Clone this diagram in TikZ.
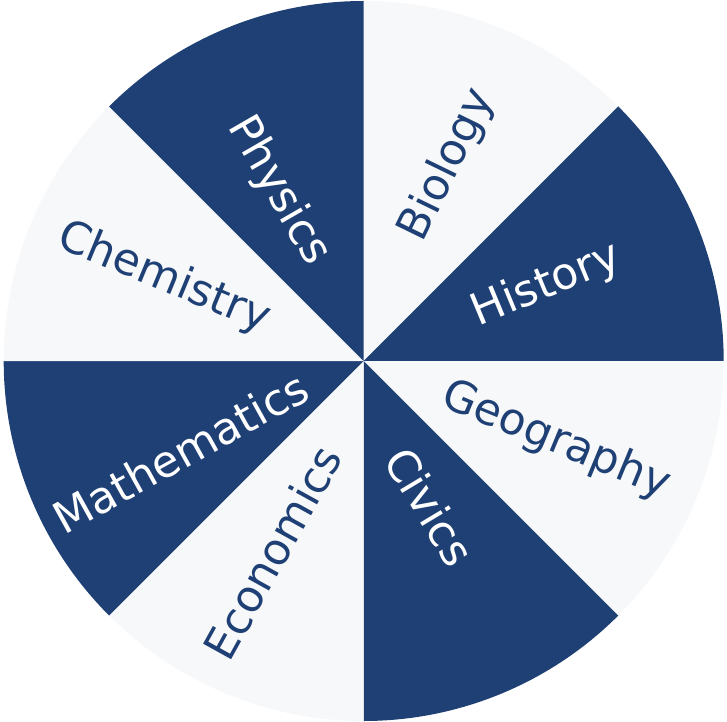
\documentclass[tikz,border=0pt]{standalone}
\usepackage{fontspec}
\setmainfont{DejaVu Sans}
\definecolor{wheelnavy}{RGB}{31,64,117}
\definecolor{wheelpale}{RGB}{247,248,250}
\begin{document}
\begin{tikzpicture}[x=1pt, y=1pt,
    darkwedge/.style={fill=wheelnavy},
    lightwedge/.style={fill=wheelpale},
    darklabel/.style={text=white, font=\fontsize{44}{53}\selectfont, inner sep=0pt},
    lightlabel/.style={text=wheelnavy, font=\fontsize{44}{53}\selectfont, inner sep=0pt}]
    \useasboundingbox (0,0) rectangle (727,721);
    \coordinate (c) at (363.7,360);

    % Wedges
    \fill[lightwedge] (c) -- ++(45:360) arc[start angle=45, end angle=90, radius=360] -- cycle;
    \fill[darkwedge] (c) -- ++(0:360) arc[start angle=0, end angle=45, radius=360] -- cycle;
    \fill[lightwedge] (c) -- ++(-45:360) arc[start angle=-45, end angle=0, radius=360] -- cycle;
    \fill[darkwedge] (c) -- ++(-90:360) arc[start angle=-90, end angle=-45, radius=360] -- cycle;
    \fill[lightwedge] (c) -- ++(-135:360) arc[start angle=-135, end angle=-90, radius=360] -- cycle;
    \fill[darkwedge] (c) -- ++(180:360) arc[start angle=180, end angle=225, radius=360] -- cycle;
    \fill[lightwedge] (c) -- ++(135:360) arc[start angle=135, end angle=180, radius=360] -- cycle;
    \fill[darkwedge] (c) -- ++(90:360) arc[start angle=90, end angle=135, radius=360] -- cycle;

    % Subjects
    \node[lightlabel, rotate=64] (bio) at ([shift={(66.8:213)}]c) {Biology};
    \node[darklabel, rotate=22.5] (hist) at ([shift={(22.5:198)}]c) {History};
    \node[lightlabel, rotate=-22.5] (geo) at ([shift={(-22.5:208)}]c) {Geography};
    \node[darklabel, rotate=-59] (civ) at ([shift={(-65.5:160)}]c) {Civics};
    \node[lightlabel, rotate=61] (econ) at ([shift={(244.5:212)}]c) {Economics};
    \node[darklabel, rotate=29] (math) at ([shift={(206.5:205)}]c) {Mathematics};
    \node[lightlabel, rotate=-22.5] (chem) at ([shift={(157.5:216)}]c) {Chemistry};
    \node[darklabel, rotate=-60] (phys) at ([shift={(116.7:190)}]c) {Physics};
\end{tikzpicture}
\end{document}
